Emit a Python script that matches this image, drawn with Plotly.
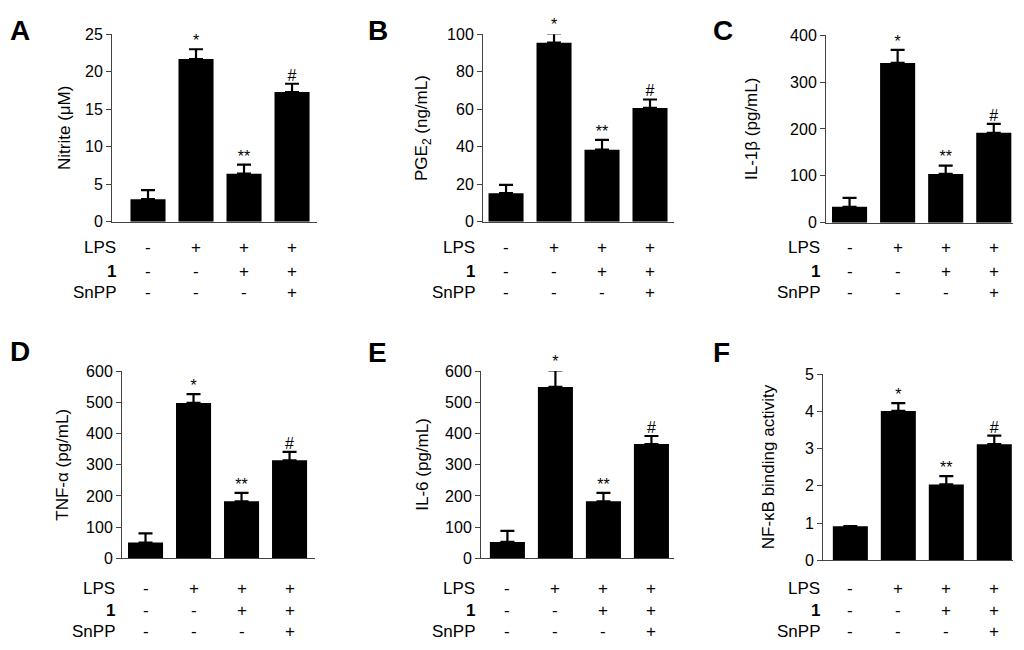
import plotly.graph_objects as go

# treatment groups (one bar each)
groups = ["ctrl", "lps", "lps_1", "lps_1_snpp"]
lps_row = ["-", "+", "+", "+"]
cpd_row = ["-", "-", "+", "+"]
snpp_row = ["-", "-", "-", "+"]
sig_marks = ["", "*", "**", "#"]

# measured values (mean) and upper error
nitrite = [3.0, 21.7, 6.4, 17.3]
nitrite_err = [1.2, 1.3, 1.2, 1.1]
pge2 = [15.2, 95.5, 38.4, 60.7]
pge2_err = [4.4, 4.9, 5.3, 4.5]
il1b = [34, 341, 104, 192]
il1b_err = [19, 28, 18, 19]
tnfa = [51, 498, 183, 314]
tnfa_err = [29, 28, 27, 27]
il6 = [53, 549, 183, 366]
il6_err = [35, 53, 27, 26]
nfkb = [0.92, 4.01, 2.04, 3.12]
nfkb_err = [0, 0.21, 0.22, 0.23]

# page body keeps an 8px margin, so the figure is 16px smaller than the window
PAD = 8
W, H = 1024 - 2 * PAD, 650 - 2 * PAD
FONT = "Arial, Liberation Sans, sans-serif"
# the snapshot came out a bit squeezed vertically, undo it
SQ, OFF = 0.971, 9


def fig_y(v):
    """window pixel -> figure pixel (from top)"""
    return (v - OFF) / SQ - PAD


def px_x(v):
    return max(v - PAD, 0) / W


def px_y(v):
    return 1 - max(fig_y(v), 0) / H


# panel placement in window pixels
panels = [
    dict(letter="A", values=nitrite, err=nitrite_err, title="Nitrite (μM)",
         x0=112, x1=317, yb=222, yt=35, ymax=25, dtick=5, xr=[-0.75, 3.52],
         title_x=65, lab_x=118, rows=[248, 272, 293], let_x=3, let_y=None),
    dict(letter="B", values=pge2, err=pge2_err, title="PGE<sub>2</sub> (ng/mL)",
         x0=483, x1=674, yb=222, yt=35, ymax=100, dtick=20, xr=[-0.48, 3.5],
         title_x=423, lab_x=477, rows=[248, 272, 293], let_x=366, let_y=None),
    dict(letter="C", values=il1b, err=il1b_err, title="IL-1β (pg/mL)",
         x0=826, x1=1013, yb=223, yt=36, ymax=400, dtick=100, xr=[-0.49, 3.4],
         title_x=752, lab_x=822, rows=[248, 272, 293], let_x=711, let_y=None),
    dict(letter="D", values=tnfa, err=tnfa_err, title="TNF-α (pg/mL)",
         x0=122, x1=315, yb=558, yt=371, ymax=600, dtick=100, xr=[-0.49, 3.53],
         title_x=63, lab_x=117, rows=[588, 610, 631], let_x=4, let_y=352),
    dict(letter="E", values=il6, err=il6_err, title="IL-6 (pg/mL)",
         x0=481, x1=674, yb=558, yt=371, ymax=600, dtick=100, xr=[-0.55, 3.47],
         title_x=423, lab_x=477, rows=[588, 610, 631], let_x=366, let_y=353),
    dict(letter="F", values=nfkb, err=nfkb_err, title="NF-κB binding activity",
         x0=823, x1=1013, yb=560, yt=374, ymax=5, dtick=1, xr=[-0.57, 3.39],
         title_x=768, lab_x=822, rows=[588, 610, 631], let_x=711, let_y=353),
]

fig = go.Figure()
annotations = []
DROP = 1    # marks sit a touch lower than plotly's default "top" offset

for i, p in enumerate(panels):
    n = "" if i == 0 else str(i + 1)
    xa, ya = "x" + n, "y" + n
    ym = "y" + str(i + 7)

    fig.add_trace(go.Bar(
        x=groups, y=p["values"], xaxis=xa, yaxis=ya,
        width=0.73, marker=dict(color="black", line=dict(width=0)),
        error_y=dict(type="data", symmetric=False, array=p["err"],
                     arrayminus=[0] * 4, color="black", thickness=2.2, width=7),
        showlegend=False, hoverinfo="skip",
    ))

    # significance marks on a hidden y axis with the same scale but more headroom
    tops = [v + e for v, e in zip(p["values"], p["err"])]
    fig.add_trace(go.Scatter(
        x=groups, y=tops, xaxis=xa, yaxis=ym, mode="text", text=sig_marks,
        textposition="top center", cliponaxis=False,
        textfont=dict(size=16, color="black", family=FONT),
        showlegend=False, hoverinfo="skip",
    ))

    fig.layout["xaxis" + n] = dict(
        domain=[px_x(p["x0"]), px_x(p["x1"])], anchor=ya, type="category",
        range=p["xr"], showline=True, linecolor="#444", linewidth=1,
        showticklabels=False, ticks="", showgrid=False, zeroline=False,
        fixedrange=True,
    )
    fig.layout["yaxis" + n] = dict(
        domain=[px_y(p["yb"]), px_y(p["yt"])], anchor=xa,
        range=[0, p["ymax"]], dtick=p["dtick"], tick0=0,
        showline=True, linecolor="#444", linewidth=1,
        ticks="outside", ticklen=5, tickwidth=1, tickcolor="#444",
        tickfont=dict(size=16, color="black", family=FONT),
        showgrid=False, zeroline=False, fixedrange=True,
    )
    bot, top = fig_y(p["yb"]) + DROP, fig_y(p["yt"]) + DROP
    extra = min(30, top - 1)
    span = (bot - top + extra) / (bot - top)
    fig.layout["yaxis" + str(i + 7)] = dict(
        domain=[1 - bot / H, 1 - (top - extra) / H], anchor="free",
        position=0, range=[0, p["ymax"] * span], visible=False,
        fixedrange=True,
    )

    # y-axis title
    annotations.append(dict(
        x=px_x(p["title_x"]), y=px_y((p["yb"] + p["yt"]) / 2),
        xref="paper", yref="paper", text=p["title"], textangle=-90,
        showarrow=False, xanchor="center", yanchor="middle",
        font=dict(size=17, color="black", family=FONT),
    ))

    # treatment table below the bars
    row_labels = ["LPS", "<b>1</b>", "SnPP"]
    for label, row, ry in zip(row_labels, [lps_row, cpd_row, snpp_row], p["rows"]):
        annotations.append(dict(
            x=px_x(p["lab_x"]), y=px_y(ry), xref="paper", yref="paper",
            text=label, showarrow=False, xanchor="right", yanchor="middle",
            font=dict(size=17, color="black", family=FONT),
        ))
        for g, sym in zip(groups, row):
            annotations.append(dict(
                x=g, y=px_y(ry), xref=xa, yref="paper", text=sym,
                showarrow=False, xanchor="center", yanchor="middle",
                font=dict(size=17, color="black", family=FONT),
            ))

    # panel letter (top row hugs the upper edge)
    if p["let_y"] is None:
        let_pos, let_anchor, shift = 1, "top", 3
    else:
        let_pos, let_anchor, shift = px_y(p["let_y"]), "middle", 0
    annotations.append(dict(
        x=px_x(p["let_x"]), y=let_pos, xref="paper", yref="paper",
        text="<b>" + p["letter"] + "</b>", showarrow=False,
        xanchor="left", yanchor=let_anchor, yshift=shift,
        font=dict(size=28, color="black", family=FONT),
    ))

fig.update_layout(
    width=W, height=H,
    margin=dict(l=0, r=0, t=0, b=0),
    paper_bgcolor="white", plot_bgcolor="rgba(0,0,0,0)",
    annotations=annotations,
)

fig.write_html("out.html")
